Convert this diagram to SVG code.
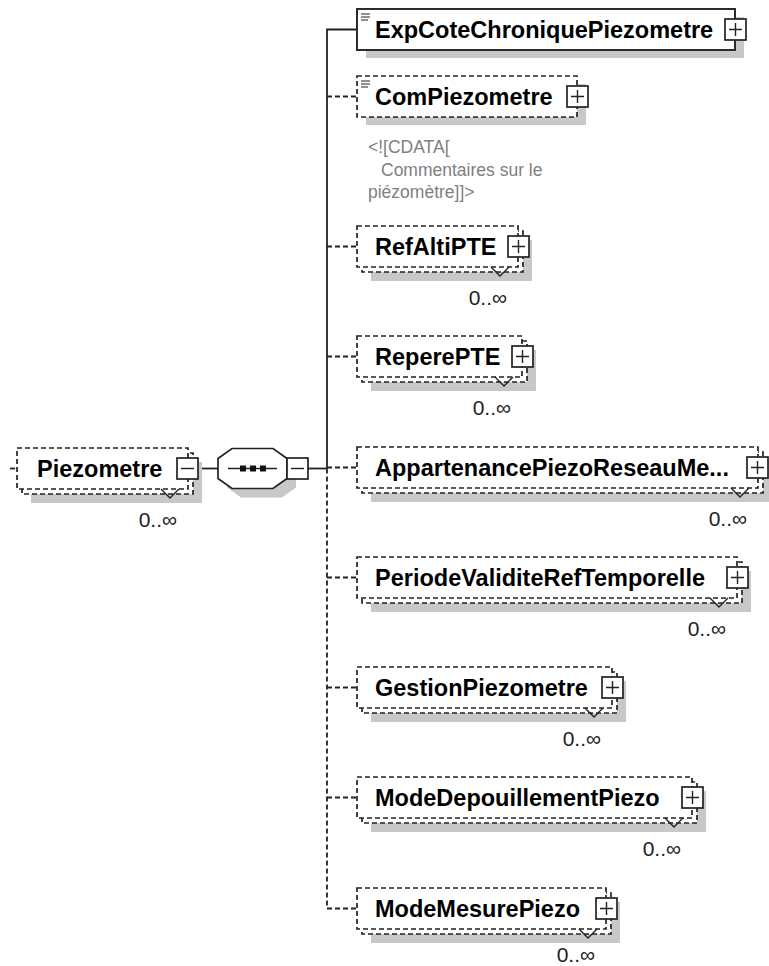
<svg xmlns="http://www.w3.org/2000/svg" width="769" height="966" viewBox="0 0 769 966">
<defs>
<style>
.bg{fill:#fff}
.box{fill:#fff;stroke:#222;stroke-width:1.7}
.dash{stroke-dasharray:5 3}
.sh{fill:#c8c8c8;stroke:none}
.ln{fill:none;stroke:#222;stroke-width:1.8}
.thin{fill:none;stroke:#222;stroke-width:1.4}
.name{font-family:"Liberation Sans",Arial,sans-serif;font-weight:bold;font-size:23.5px;fill:#000}
.occ{font-family:"Liberation Sans",Arial,sans-serif;font-size:21px;fill:#222;text-anchor:end}
.doc{font-family:"Liberation Sans",Arial,sans-serif;font-size:17.5px;fill:#808080}
</style>
</defs>
<rect class="bg" x="0" y="0" width="769" height="966"/>

<g id="connectors">
<path class="ln dash" d="M10,468.5 H17"/>
<path class="ln" d="M198,468.5 H218"/>
<path class="ln" d="M308,468.5 H327"/>
<path class="ln" d="M357,29.5 H327 V468.5"/>
<path class="ln dash" d="M327,468.5 V908.5 H357"/>
<path class="ln dash" d="M327,96.5 H357"/>
<path class="ln dash" d="M327,246.5 H357"/>
<path class="ln dash" d="M327,356.5 H357"/>
<path class="ln dash" d="M327,467.5 H357"/>
<path class="ln dash" d="M327,577.5 H357"/>
<path class="ln dash" d="M327,687.5 H357"/>
<path class="ln dash" d="M327,797.5 H357"/>
</g>

<g id="Piezometre">
<rect class="sh" x="31" y="462" width="171" height="41"/>
<rect class="box dash" x="22" y="453" width="171" height="41"/>
<rect class="box dash" x="17" y="448" width="171" height="41"/>
<text class="name" x="37" y="477">Piezometre</text>
<polyline class="thin" points="161,489 170,498 179,489"/>
<rect class="box" x="177" y="458" width="21" height="21"/>
<path class="thin" d="M181,468.5 H194"/>
<text class="occ" x="177" y="527">0..∞</text>
</g>

<g id="sequence">
<polygon class="sh" points="241,457.5 282,457.5 296,467.5 296,487.5 282,497.5 241,497.5 227,487.5 227,467.5"/>
<polygon class="box" points="232,448.5 273,448.5 287,458.5 287,478.5 273,488.5 232,488.5 218,478.5 218,458.5"/>
<path class="thin" d="M228,468.5 H277"/>
<rect x="240" y="465.5" width="6" height="6" fill="#111"/>
<rect x="250" y="465.5" width="6" height="6" fill="#111"/>
<rect x="260" y="465.5" width="6" height="6" fill="#111"/>
<rect class="box" x="287" y="458" width="21" height="21"/>
<path class="thin" d="M291,468.5 H304"/>
</g>

<g id="ExpCoteChroniquePiezometre">
<rect class="sh" x="366" y="17" width="378" height="41"/>
<rect class="box" x="357" y="9" width="378" height="41" style="stroke-width:1.9"/>
<path class="thin" d="M361,14 H370 M361,17 H370 M361,20 H368" style="stroke-width:1.1"/>
<text class="name" x="375" y="38">ExpCoteChroniquePiezometre</text>
<rect class="box" x="725" y="19" width="21" height="21"/>
<path class="thin" d="M729,29.5 H742 M735.5,23 V36"/>
</g>

<g id="ComPiezometre">
<rect class="sh" x="366" y="84" width="220" height="41"/>
<rect class="box dash" x="357" y="76" width="220" height="41"/>
<path class="thin" d="M361,81 H370 M361,84 H370 M361,87 H368" style="stroke-width:1.1"/>
<text class="name" x="375" y="105">ComPiezometre</text>
<rect class="box" x="567" y="86" width="21" height="21"/>
<path class="thin" d="M571,96.5 H584 M577.5,90 V103"/>
<text class="doc" x="368" y="153">&lt;![CDATA[</text>
<text class="doc" x="381" y="176">Commentaires sur le</text>
<text class="doc" x="368" y="198">piézomètre]]&gt;</text>
</g>

<g id="RefAltiPTE">
<rect class="sh" x="371" y="240" width="161" height="41"/>
<rect class="box dash" x="362" y="231" width="161" height="41"/>
<rect class="box dash" x="357" y="226" width="161" height="41"/>
<text class="name" x="375" y="255">RefAltiPTE</text>
<polyline class="thin" points="491,267 500,276 509,267"/>
<rect class="box" x="508" y="236" width="21" height="21"/>
<path class="thin" d="M512,246.5 H525 M518.5,240 V253"/>
<text class="occ" x="507" y="305">0..∞</text>
</g>

<g id="ReperePTE">
<rect class="sh" x="371" y="350" width="165" height="41"/>
<rect class="box dash" x="362" y="341" width="165" height="41"/>
<rect class="box dash" x="357" y="336" width="165" height="41"/>
<text class="name" x="375" y="365">ReperePTE</text>
<polyline class="thin" points="495,377 504,386 513,377"/>
<rect class="box" x="512" y="346" width="21" height="21"/>
<path class="thin" d="M516,356.5 H529 M522.5,350 V363"/>
<text class="occ" x="511" y="415">0..∞</text>
</g>

<g id="AppartenancePiezoReseauMesure">
<rect class="sh" x="371" y="461" width="401" height="41"/>
<rect class="box dash" x="362" y="452" width="401" height="41"/>
<rect class="box dash" x="357" y="447" width="401" height="41"/>
<text class="name" x="375" y="476">AppartenancePiezoReseauMe...</text>
<polyline class="thin" points="731,488 740,497 749,488"/>
<rect class="box" x="747" y="457" width="21" height="21"/>
<path class="thin" d="M751,467.5 H764 M757.5,461 V474"/>
<text class="occ" x="747" y="526">0..∞</text>
</g>

<g id="PeriodeValiditeRefTemporelle">
<rect class="sh" x="371" y="571" width="380" height="41"/>
<rect class="box dash" x="362" y="562" width="380" height="41"/>
<rect class="box dash" x="357" y="557" width="380" height="41"/>
<text class="name" x="375" y="586">PeriodeValiditeRefTemporelle</text>
<polyline class="thin" points="710,598 719,607 728,598"/>
<rect class="box" x="727" y="567" width="21" height="21"/>
<path class="thin" d="M731,577.5 H744 M737.5,571 V584"/>
<text class="occ" x="726" y="636">0..∞</text>
</g>

<g id="GestionPiezometre">
<rect class="sh" x="371" y="681" width="255" height="41"/>
<rect class="box dash" x="362" y="672" width="255" height="41"/>
<rect class="box dash" x="357" y="667" width="255" height="41"/>
<text class="name" x="375" y="696">GestionPiezometre</text>
<polyline class="thin" points="585,708 594,717 603,708"/>
<rect class="box" x="602" y="677" width="21" height="21"/>
<path class="thin" d="M606,687.5 H619 M612.5,681 V694"/>
<text class="occ" x="601" y="746">0..∞</text>
</g>

<g id="ModeDepouillementPiezo">
<rect class="sh" x="371" y="791" width="335" height="41"/>
<rect class="box dash" x="362" y="782" width="335" height="41"/>
<rect class="box dash" x="357" y="777" width="335" height="41"/>
<text class="name" x="375" y="806">ModeDepouillementPiezo</text>
<polyline class="thin" points="665,818 674,827 683,818"/>
<rect class="box" x="682" y="787" width="21" height="21"/>
<path class="thin" d="M686,797.5 H699 M692.5,791 V804"/>
<text class="occ" x="681" y="856">0..∞</text>
</g>

<g id="ModeMesurePiezo">
<rect class="sh" x="371" y="902" width="249" height="41"/>
<rect class="box dash" x="362" y="893" width="249" height="41"/>
<rect class="box dash" x="357" y="888" width="249" height="41"/>
<text class="name" x="375" y="917">ModeMesurePiezo</text>
<polyline class="thin" points="579,929 588,938 597,929"/>
<rect class="box" x="596" y="898" width="21" height="21"/>
<path class="thin" d="M600,908.5 H613 M606.5,902 V915"/>
<text class="occ" x="595" y="962">0..∞</text>
</g>
</svg>
